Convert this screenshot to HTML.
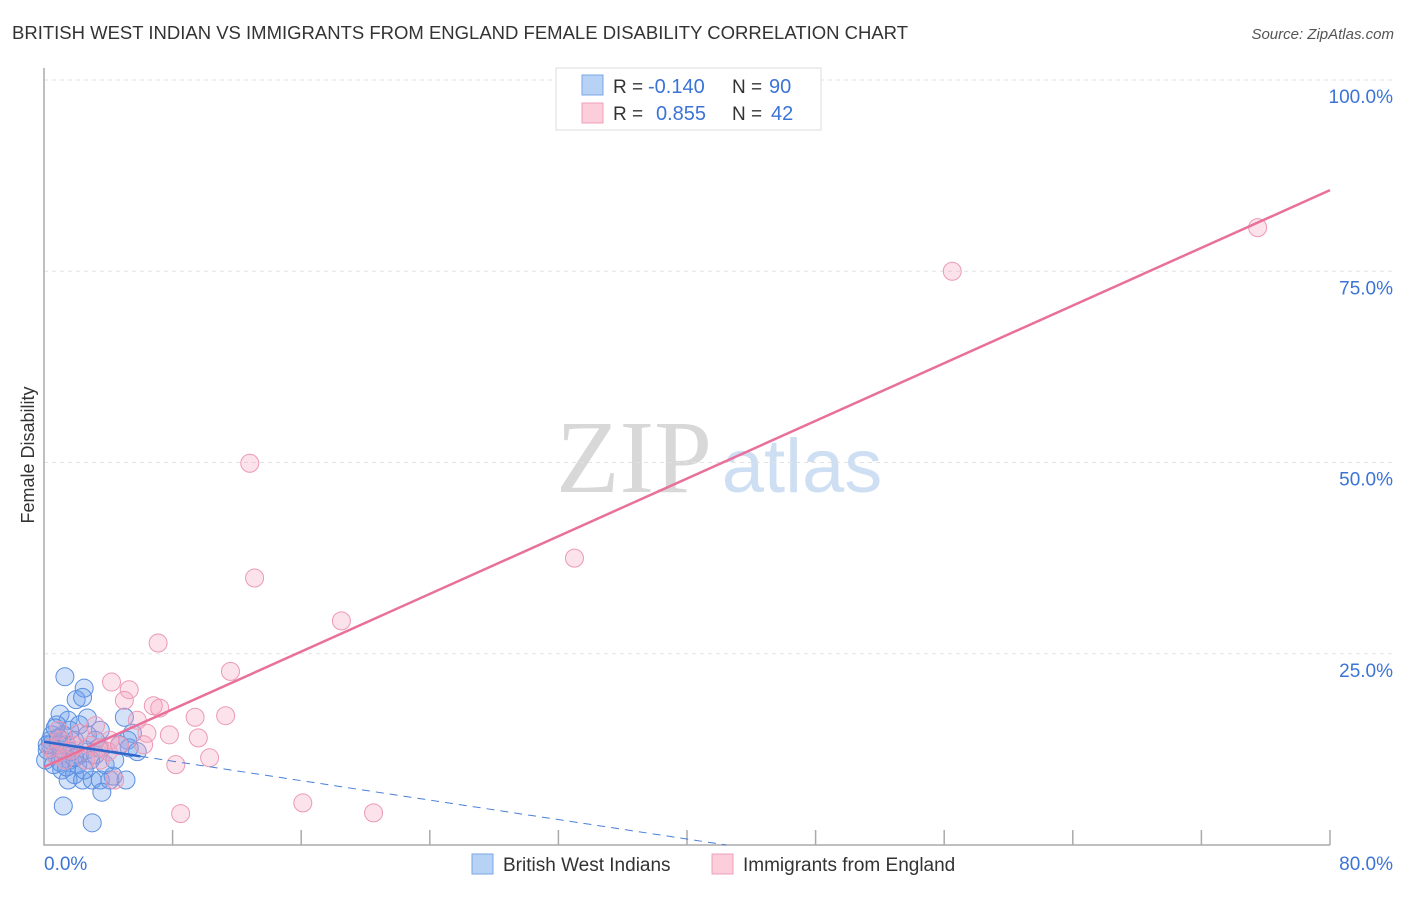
<!DOCTYPE html>
<html><head><meta charset="utf-8"><style>
body{margin:0;background:#fff;font-family:"Liberation Sans",sans-serif}
</style></head><body>
<svg width="1406" height="892" xmlns="http://www.w3.org/2000/svg" id="chart" style="font-family:'Liberation Sans',sans-serif">
<text x="12" y="39" font-size="18.5" fill="#333">BRITISH WEST INDIAN VS IMMIGRANTS FROM ENGLAND FEMALE DISABILITY CORRELATION CHART</text>
<text x="1394" y="39" font-size="15" fill="#555" font-style="italic" text-anchor="end">Source: ZipAtlas.com</text>
<text x="634" y="492" font-size="104" fill="#d8d8d8" font-family="Liberation Serif,serif" text-anchor="middle">ZIP</text>
<text x="802" y="492" font-size="76" fill="#cfdff3" text-anchor="middle">atlas</text>
<g id="grid"></g>
<g id="axes"></g>
<g id="marks"></g>
<text x="34" y="455" font-size="18" fill="#333" transform="rotate(-90 34 455)" text-anchor="middle">Female Disability</text>
<g>
<rect x="556" y="68" width="265" height="62" fill="#fff" stroke="#ddd"/>
<rect x="582" y="75" width="21" height="20" fill="#b7d2f5" stroke="#7aa6e6"/>
<rect x="582" y="103" width="21" height="20" fill="#fccddb" stroke="#f0a0b8"/>
<text x="613" y="93" font-size="19" fill="#333">R =</text>
<text x="648" y="93" font-size="20" fill="#3b74d6">-0.140</text>
<text x="732" y="93" font-size="19" fill="#333">N =</text>
<text x="769" y="93" font-size="20" fill="#3b74d6">90</text>
<text x="613" y="120" font-size="19" fill="#333">R =</text>
<text x="656" y="120" font-size="20" fill="#3b74d6">0.855</text>
<text x="732" y="120" font-size="19" fill="#333">N =</text>
<text x="771" y="120" font-size="20" fill="#3b74d6">42</text>
</g>
<g>
<rect x="472" y="854" width="21" height="20" fill="#b7d2f5" stroke="#7aa6e6"/>
<text x="503" y="871" font-size="19" fill="#333">British West Indians</text>
<rect x="712" y="854" width="21" height="20" fill="#fccddb" stroke="#f0a0b8"/>
<text x="743" y="871" font-size="19" fill="#333">Immigrants from England</text>
</g>
</svg>
<script>
const yTicks=[25,50,75,100];
const yTickLabels=["25.0%","50.0%","75.0%","100.0%"];
const xTicks=[8,16,24,32,40,48,56,64,72,80];
const xEndLabels=["0.0%","80.0%"];
const blueX=[1.3,2.5,2.0,2.4,5.0,1.0,2.7,1.5,0.8,3.5,2.2,5.5,3.2,5.2,5.3,5.8,4.7,1.2,0.4,0.7,1.6,1.1,1.9,1.5,2.4,3.0,3.5,4.1,5.1,4.3,3.6,1.2,3.0,0.4,0.2,0.1,0.5,0.9,1.4,1.9,2.6,2.9,2.1,3.2,1.0,1.7,0.7,3.8,4.4,2.2,1.1,1.6,2.7,3.4,0.6,1.4,1.9,2.5,0.2,0.9];
const blueY=[22.0,20.5,19.0,19.3,16.7,17.1,16.6,16.3,15.7,15.0,15.7,14.6,13.7,13.7,12.7,12.2,13.1,14.4,13.1,11.8,11.1,9.8,9.2,8.5,8.5,8.5,8.5,8.5,8.5,9.0,6.9,5.1,2.9,13.7,12.4,11.1,14.4,13.1,13.1,13.7,12.4,11.1,10.5,11.8,10.8,12.2,15.3,10.5,11.1,11.8,12.4,15.0,14.4,12.7,10.5,10.2,11.4,9.8,13.1,14.0];
const pinkX=[75.5,56.5,12.8,13.1,33.0,18.5,7.1,11.6,4.2,5.3,5.0,6.8,7.2,5.8,9.4,11.3,6.4,7.8,9.6,4.1,6.2,3.5,4.0,8.2,10.3,8.5,16.1,20.5,4.4,2.9,1.6,1.0,0.7,2.2,3.2,1.3,0.4,2.6,4.7,1.9,0.9,3.5];
const pinkY=[80.7,75.0,49.9,34.9,37.5,29.3,26.4,22.7,21.3,20.3,18.9,18.2,17.9,16.3,16.7,16.9,14.6,14.4,14.0,13.7,13.1,12.7,12.2,10.5,11.4,4.1,5.5,4.2,8.5,13.0,12.4,13.7,11.8,14.6,15.6,11.1,12.7,11.1,13.0,13.0,15.0,11.1];
const pinkLine=[10.2,85.6];
const blueLine=[13.5,-0.318];
const X=v=>44+v*16.075, Y=v=>845-v*7.65;
const NS="http://www.w3.org/2000/svg";
function mk(tag,attrs,parent){const e=document.createElementNS(NS,tag);for(const k in attrs)e.setAttribute(k,attrs[k]);document.getElementById(parent).appendChild(e);return e;}
yTicks.forEach((t,i)=>{
 const l=mk('line',{x1:44,x2:1394,y1:Y(t),y2:Y(t),stroke:'#e2e2e2','stroke-dasharray':'4,4'},'grid');
 
 
 const tx=mk('text',{x:1393,y:Y(t)+23,'font-size':19,fill:'#3b74d6','text-anchor':'end'},'grid');tx.textContent=yTickLabels[i];
 
 
});
const ax=mk('path',{d:`M44 68V845H1330`,fill:'none',stroke:'#aaa','stroke-width':1.5},'axes');


xTicks.forEach(v=>{const t=mk('line',{x1:X(v),x2:X(v),y1:830,y2:845,stroke:'#aaa','stroke-width':1.5},'axes');
 
 });
const xl0=mk('text',{x:44,y:870,'font-size':19,fill:'#3b74d6'},'axes');xl0.textContent=xEndLabels[0];


const xl1=mk('text',{x:1393,y:870,'font-size':19,fill:'#3b74d6','text-anchor':'end'},'axes');xl1.textContent=xEndLabels[1];


blueX.forEach((x,i)=>{const c=mk('circle',{cx:X(x),cy:Y(blueY[i]),r:9,fill:'rgba(110,160,235,0.3)',stroke:'#5b8fe0','stroke-width':1},'marks');
 
 });
pinkX.forEach((x,i)=>{const c=mk('circle',{cx:X(x),cy:Y(pinkY[i]),r:9,fill:'rgba(245,160,190,0.3)',stroke:'#eb9ab4','stroke-width':1},'marks');
 
 });
const pl=mk('line',{x1:X(0),y1:Y(pinkLine[0]),x2:X(80),y2:Y(pinkLine[1]),stroke:'#e8709a','stroke-width':2.5},'marks');


const bs=mk('line',{x1:X(0),y1:Y(blueLine[0]),x2:X(6),y2:Y(blueLine[0]+blueLine[1]*6),stroke:'#2f66cc','stroke-width':2.5},'marks');


const xEnd=-blueLine[0]/blueLine[1];
const bd=mk('line',{x1:X(6),y1:Y(blueLine[0]+blueLine[1]*6),x2:X(xEnd),y2:Y(0),stroke:'#4a7fd8','stroke-width':1,'stroke-dasharray':'8,6'},'marks');


</script>
</body></html>
